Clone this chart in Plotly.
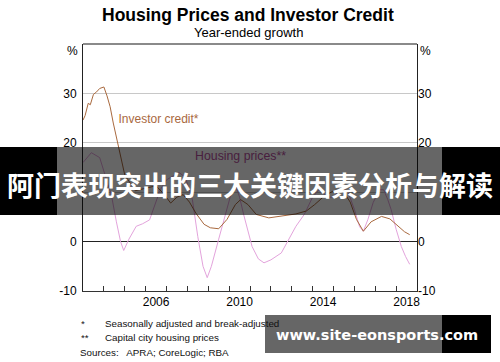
import plotly.graph_objects as go

# ---------------- data ----------------
credit_x = [2003.0, 2003.1, 2003.25, 2003.35, 2003.5, 2003.65, 2003.8, 2004.0, 2004.15, 2004.3,
            2004.45, 2004.6, 2004.8, 2005.0, 2005.5, 2006.0, 2006.5, 2006.9, 2007.2, 2007.5,
            2007.8, 2008.1, 2008.4, 2008.8, 2009.1, 2009.5, 2009.9, 2010.3, 2010.55, 2010.9,
            2011.3, 2011.9, 2012.5, 2013.2, 2013.7, 2014.1, 2014.5, 2015.0, 2015.4, 2015.8,
            2016.1, 2016.43, 2016.8, 2017.3, 2017.7, 2018.1, 2018.4, 2018.65]
credit_y = [24.6, 25.5, 28.0, 27.7, 29.8, 30.3, 31.0, 31.3, 29.5, 27.3,
            24.0, 21.0, 17.2, 13.5, 10.3, 10.8, 11.3, 9.5, 7.8, 9.0,
            9.5, 8.0, 5.8, 3.5, 2.8, 2.6, 4.5, 7.5, 8.5, 7.5,
            5.5, 4.8, 5.2, 5.6, 6.2, 7.5, 9.0, 10.3, 10.6, 8.0,
            4.5, 2.1, 4.0, 5.1, 4.6, 3.0, 2.0, 1.4]

house_x = [2003.0, 2003.4, 2003.8, 2004.1, 2004.37, 2004.6, 2004.8, 2004.95, 2005.2, 2005.55,
           2005.85, 2006.19, 2006.4, 2006.7, 2007.0, 2007.3, 2007.6, 2007.9, 2008.24, 2008.5,
           2008.75, 2008.95, 2009.15, 2009.5, 2009.8, 2010.05, 2010.3, 2010.5, 2010.7, 2011.1,
           2011.4, 2011.67, 2012.0, 2012.5, 2013.2, 2013.6, 2014.0, 2014.3, 2014.7, 2015.0,
           2015.4, 2015.7, 2016.0, 2016.25, 2016.43, 2016.65, 2016.9, 2017.2, 2017.4, 2017.6,
           2017.76, 2018.0, 2018.25, 2018.45, 2018.65]
house_y = [16.0, 18.0, 17.0, 13.0, 9.2, 4.0, 0.0, -1.8, 0.5, 3.1,
           3.6, 4.4, 7.0, 10.5, 12.5, 13.2, 14.0, 13.0, 8.5, 1.0,
           -5.0, -7.3, -5.0, 0.5, 5.0, 9.0, 11.5, 9.0, 5.4, -1.0,
           -3.5, -4.3, -3.7, -2.3, 3.1, 5.5, 9.0, 10.5, 9.0, 9.0,
           11.0, 10.0, 6.5, 3.0, 2.1, 4.5, 7.9, 10.5, 10.5, 8.5,
           6.5, 2.5, -1.0, -3.0, -4.6]

year_ticks = list(range(2004, 2019))
year_labels = ["2006", "2010", "2014", "2018"]
year_label_pos = [2006.5, 2010.5, 2014.5, 2018.5]
y_ticks = [-10, 0, 10, 20, 30]
y_labels = ["-10", "0", "", "20", "30"]   # the 10 label is hidden under the banner

title = "Housing Prices and Investor Credit"
subtitle = "Year-ended growth"
credit_name = "Investor credit*"
house_name = "Housing prices**"
notes = [("*", "Seasonally adjusted and break-adjusted"),
         ("**", "Capital city housing prices")]
sources = "Sources:   APRA; CoreLogic; RBA"
banner_text = "阿门表现突出的三大关键因素分析与解读"
watermark_text = "www.site-eonsports.com"

# ---------------- styling ----------------
FONT = "Arial, Liberation Sans, sans-serif"
BROWN = "#a9693e"
PINK = "#e3a3dc"
PINK_TXT = "#b44e9c"

W, H = 500, 362
L, R, T, B = 83, 417, 44, 291
PW, PH = R - L, B - T


def px(x):
    return (x - L) / PW


def py(y):
    return (B - y) / PH


fig = go.Figure()
fig.add_trace(go.Scatter(x=house_x, y=house_y, mode="lines",
                         line=dict(color=PINK, width=1), hoverinfo="skip", showlegend=False))
fig.add_trace(go.Scatter(x=credit_x, y=credit_y, mode="lines",
                         line=dict(color=BROWN, width=1), hoverinfo="skip", showlegend=False))
# in-plot labels as text traces (so the banner sits above them)
fig.add_trace(go.Scatter(x=[2004.7], y=[24.7], mode="text", text=[credit_name],
                         textposition="middle right",
                         textfont=dict(family=FONT, size=12, color=BROWN),
                         hoverinfo="skip", showlegend=False))
fig.add_trace(go.Scatter(x=[2008.37], y=[17.1], mode="text", text=[house_name],
                         textposition="middle right",
                         textfont=dict(family=FONT, size=12.3, color=PINK_TXT),
                         hoverinfo="skip", showlegend=False))
# dummy trace for right axis
fig.add_trace(go.Scatter(x=[2003], y=[None], yaxis="y2", mode="lines",
                         hoverinfo="skip", showlegend=False))

fig.update_layout(
    width=W, height=H,
    margin=dict(l=L, r=W - R, t=T, b=H - B, pad=0),
    paper_bgcolor="white", plot_bgcolor="white",
    font=dict(family=FONT, size=12, color="black"),
    showlegend=False,
    xaxis=dict(range=[2003, 2019], tickmode="array", tickvals=year_label_pos, ticktext=year_labels,
               ticks="", showgrid=False, zeroline=False, showline=True, linecolor="#333",
               linewidth=1, tickfont=dict(size=12),
               minor=dict(tickmode="array", tickvals=year_ticks, ticks="inside", ticklen=5,
                          tickcolor="#333", tickwidth=1, showgrid=False),
               fixedrange=True),
    yaxis=dict(range=[-10, 40], tickmode="array", tickvals=y_ticks, ticktext=y_labels,
               ticks="", showgrid=True, gridcolor="#c8c8c8", gridwidth=1,
               zeroline=True, zerolinecolor="#222", zerolinewidth=1,
               showline=True, linecolor="#222", linewidth=1, mirror=True,
               tickfont=dict(size=12), ticklabelstandoff=3, fixedrange=True),
    yaxis2=dict(range=[-10, 40], overlaying="y", side="right", anchor="x",
                tickmode="array", tickvals=y_ticks, ticktext=y_labels, ticks="",
                showgrid=False, zeroline=False, showline=False,
                tickfont=dict(size=12), ticklabelstandoff=0, fixedrange=True),
)

shapes = [
    # gray top border
    dict(type="line", xref="paper", yref="paper", x0=0, x1=1, y0=1, y1=1,
         line=dict(color="#8a8a8a", width=2), layer="above"),
    # banner
    dict(type="rect", xref="paper", yref="paper", x0=px(0), x1=px(57), y0=py(215), y1=py(147),
         fillcolor="black", line=dict(width=0), layer="above"),
    dict(type="rect", xref="paper", yref="paper", x0=px(57), x1=px(442), y0=py(215), y1=py(147),
         fillcolor="rgba(0,0,0,0.6)", line=dict(width=0), layer="above"),
    dict(type="rect", xref="paper", yref="paper", x0=px(442), x1=px(500), y0=py(215), y1=py(147),
         fillcolor="black", line=dict(width=0), layer="above"),
    # watermark box
    dict(type="rect", xref="paper", yref="paper", x0=px(265), x1=px(442), y0=py(353), y1=py(315),
         fillcolor="rgba(0,0,0,0.6)", line=dict(width=0), layer="above"),
    dict(type="rect", xref="paper", yref="paper", x0=px(442), x1=px(491), y0=py(353), y1=py(315),
         fillcolor="black", line=dict(width=0), layer="above"),
]
fig.update_layout(shapes=shapes)

ann = []
ann.append(dict(text="<b>" + title + "</b>", xref="paper", yref="paper", x=px(248), y=py(15),
                xanchor="center", yanchor="middle", showarrow=False,
                font=dict(family=FONT, size=17.5, color="black")))
ann.append(dict(text=subtitle, xref="paper", yref="paper", x=px(248), y=py(33),
                xanchor="center", yanchor="middle", showarrow=False,
                font=dict(family=FONT, size=13, color="black")))
ann.append(dict(text="%", xref="paper", yref="paper", x=px(80), y=py(51),
                xanchor="right", yanchor="middle", showarrow=False, font=dict(family=FONT, size=12)))
ann.append(dict(text="%", xref="paper", yref="paper", x=px(418), y=py(51),
                xanchor="left", yanchor="middle", showarrow=False, font=dict(family=FONT, size=12)))
for i, (mark, txt) in enumerate(notes):
    yy = 323 + i * 14
    ann.append(dict(text=mark, xref="paper", yref="paper", x=px(79), y=py(yy), xanchor="left",
                    yanchor="middle", showarrow=False, font=dict(family=FONT, size=9.8, color="#111")))
    ann.append(dict(text=txt, xref="paper", yref="paper", x=px(103), y=py(yy), xanchor="left",
                    yanchor="middle", showarrow=False, font=dict(family=FONT, size=9.8, color="#111")))
ann.append(dict(text=sources, xref="paper", yref="paper", x=px(78), y=py(352), xanchor="left",
                yanchor="middle", showarrow=False, font=dict(family=FONT, size=9.8, color="#111")))
ann.append(dict(text=banner_text, xref="paper", yref="paper", x=px(250), y=py(184),
                xanchor="center", yanchor="middle", showarrow=False,
                font=dict(family="Noto Sans CJK SC", size=27, color="white", weight="bold")))
ann.append(dict(text=watermark_text, xref="paper", yref="paper", x=px(377), y=py(335),
                xanchor="center", yanchor="middle", showarrow=False,
                font=dict(family="DejaVu Sans", size=14.5, color="white", weight="bold")))
fig.update_layout(annotations=ann)

fig.write_html("out.html", config={"displayModeBar": False},
               post_script="document.body.style.margin='0';document.body.style.overflow='hidden';")
